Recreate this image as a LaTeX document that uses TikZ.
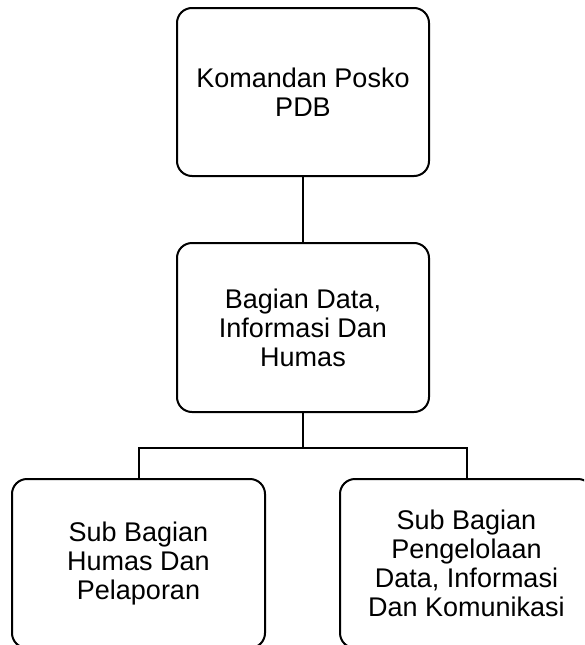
\documentclass[tikz,border=0pt]{standalone}
\usepackage{fontspec}
\setmainfont{Liberation Sans}
\usepackage{tikz}

\begin{document}
\begin{tikzpicture}[x=1pt, y=-1pt,
    box/.style={draw, line width=2pt, rounded corners=15pt, align=center,
        font=\fontsize{27}{29}\selectfont, inner sep=0pt},
    link/.style={line width=2pt}]
			\useasboundingbox (0,0) rectangle (584,645);
			\clip (0,0) rectangle (584,645);
			
			\def\bw{252};
			\def\bh{168};
			
			\coordinate (c1) at (303,92);
			\coordinate (c2) at (303,327.5);
			\coordinate (c3) at (138.5,563.5);
			\coordinate (c4) at (466.5,563.5);
			
			\node[box, minimum width=\bw, minimum height=\bh] (komandan) at (c1) {Komandan Posko\\PDB};
			\node[box, minimum width=\bw, minimum height=169] (bagian) at (c2) {Bagian Data,\\Informasi Dan\\Humas};
			\node[box, minimum width=253, minimum height=169] (subhumas) at (c3) {Sub Bagian\\Humas Dan\\Pelaporan};
			\node[box, minimum width=253, minimum height=169] (subdata) at (c4) {Sub Bagian\\Pengelolaan\\Data, Informasi\\Dan Komunikasi};
			
			%tree lines
			\draw [link] (komandan) -- (bagian);
			\draw [link] (bagian.south) -- ++(0,35) coordinate (split);
			\draw [link] (subhumas.north) |- (split) -| (subdata.north);
		\end{tikzpicture}
\end{document}
